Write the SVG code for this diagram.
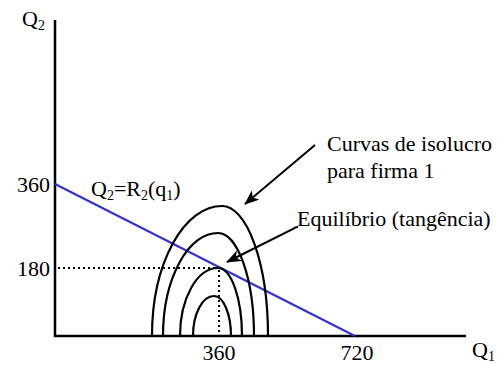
<svg xmlns="http://www.w3.org/2000/svg" width="498" height="365" viewBox="0 0 498 365">
<style>
text{font-family:"Liberation Serif","Times New Roman",serif;font-size:22px;fill:#000}
.sub{font-size:14px}
.ax{stroke:#000;stroke-width:2.5;fill:none}
.arch{stroke:#000;stroke-width:2.2;fill:none}
.dot{stroke:#000;stroke-width:2;stroke-dasharray:2,3;fill:none}
.arr{stroke:#000;stroke-width:2;fill:none}
</style>
<defs>
<marker id="ah" markerUnits="userSpaceOnUse" markerWidth="15" markerHeight="12" viewBox="0 0 15 12" refX="14" refY="6" orient="auto">
<path d="M0,0 L15,6 L0,12 L4,6 z" fill="#000"/>
</marker>
</defs>
<rect width="498" height="365" fill="#fff"/>
<g id="axes">
<line class="ax" x1="55" y1="20" x2="55" y2="337"/>
<line class="ax" x1="54" y1="336" x2="466" y2="336"/>
</g>
<g id="reaction-line">
<line x1="55" y1="184" x2="355" y2="336" stroke="#3333cc" stroke-width="2.2"/>
</g>
<g id="isoprofit-curves">
<path class="arch" d="M152,336 A70,130 0 0 1 222,206 A46,130 0 0 1 268,336"/>
<path class="arch" d="M163,336 A55,103 0 0 1 218,233 A36,103 0 0 1 254,336"/>
<path class="arch" d="M180,336 A38,68 0 0 1 218,268 A24,68 0 0 1 242,336"/>
<path class="arch" d="M193,336 A21,40 0 0 1 214,296 A17,40 0 0 1 231,336"/>
</g>
<g id="guides">
<line class="dot" x1="58" y1="268" x2="218" y2="268"/>
<line class="dot" x1="219" y1="270" x2="219" y2="335"/>
</g>
<g id="connectors">
<line class="arr" x1="315" y1="145" x2="245" y2="204" marker-end="url(#ah)"/>
<path class="arr" d="M298,227 Q295,227 293,229 L227,262" marker-end="url(#ah)"/>
</g>
<g id="labels">
<text x="22" y="26">Q<tspan class="sub" dy="4">2</tspan></text>
<text x="50" y="192" text-anchor="end">360</text>
<text x="50" y="276" text-anchor="end">180</text>
<text x="91" y="196">Q<tspan class="sub" dy="4">2</tspan><tspan dy="-4">=R</tspan><tspan class="sub" dy="4">2</tspan><tspan dy="-4">(q</tspan><tspan class="sub" dy="4">1</tspan><tspan dy="-4">)</tspan></text>
<text x="219" y="360" text-anchor="middle">360</text>
<text x="357" y="360" text-anchor="middle">720</text>
<text x="472" y="357">Q<tspan class="sub" dy="4">1</tspan></text>
<text x="327" y="151">Curvas de isolucro</text>
<text x="327" y="178">para firma 1</text>
<text x="297" y="226">Equilíbrio (tangência)</text>
</g>
</svg>
